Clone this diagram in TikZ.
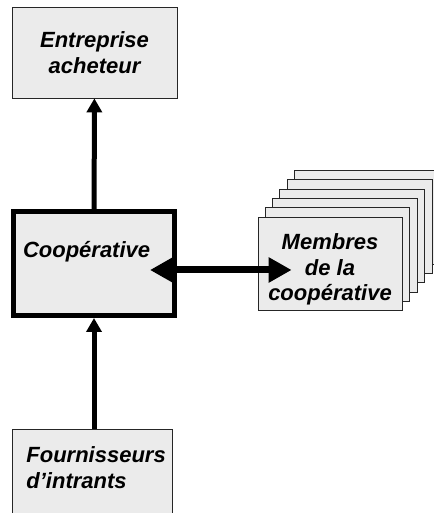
\documentclass[tikz,border=0pt]{standalone}
\usepackage{fontspec}
\setmainfont{Liberation Sans}
\usetikzlibrary{arrows.meta,backgrounds}

\begin{document}
\begin{tikzpicture}[x=1pt, y=1pt,
    boite/.style={draw=black!85, line width=0.8pt, fill=black!8, inner sep=0pt,
      font=\fontsize{22}{25.5}\selectfont\bfseries\itshape},
    fleche/.style={-{Triangle[length=14pt,width=15pt]}, line width=5pt},
    dfleche/.style={{Triangle[length=23pt,width=24pt]}-{Triangle[length=23pt,width=24pt]}, line width=7pt}]
%  \draw [help lines] (0,0) grid [step=50] (433,513);
  \useasboundingbox (0,0) rectangle (433,513);
  \clip (0,0) rectangle (433,513);

  \node [boite, minimum width=165, minimum height=91, align=center] (acheteur) at (94.5,460.5) {Entreprise\\acheteur};
  \node [boite, draw=black, line width=5pt, minimum width=161, minimum height=104, text width=142, align=left, text height=16pt, text depth=27pt] (coop) at (94,249.5) {Coopérative};
  \node [boite, anchor=north west, inner xsep=14pt, inner ysep=17.5pt, text width=132, align=left, text depth=80pt] (fourn) at (12,84) {Fournisseurs\\d'intrants};
  \node [boite, minimum width=144, minimum height=93, align=center, text height=75pt, text depth=0pt] (membres) at (330,249.5) {Membres\\de la\\coopérative};

  % la pile derriere les membres
  \begin{scope}[on background layer]
    \foreach \k in {5,4,...,1}
      \draw [boite] ([shift={(\k*7.4,\k*9.2)}]membres.south west) rectangle ([shift={(\k*7.4,\k*9.2)}]membres.north east);
  \end{scope}

  \draw [fleche] (coop) -- (acheteur);
  \draw [fleche] (fourn.north -| coop) -- (coop);
  \draw [dfleche, shorten <=-27pt, shorten >=-34pt] ([yshift=-6.5pt]coop.east) -- ([yshift=-6.5pt]membres.west);
\end{tikzpicture}
\end{document}
